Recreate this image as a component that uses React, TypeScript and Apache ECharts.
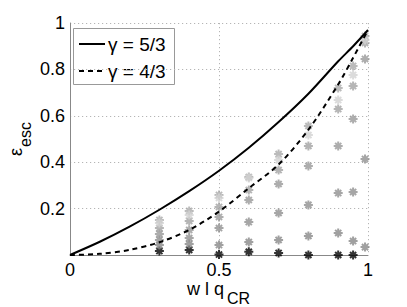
import { useEffect, useRef } from 'react';
import * as echarts from 'echarts';

// Axis ticks
const xTickValues = [0, 0.5, 1];
const yTickValues = [0.2, 0.4, 0.6, 0.8, 1];

// Legend labels
const legendLabels = ['γ = 5/3', 'γ = 4/3'];

// Analytic curves
const curveW = [0, 0.1, 0.2, 0.3, 0.4, 0.5, 0.6, 0.7, 0.8, 0.9, 0.95, 1];
const gamma53 = [0, 0.057, 0.122, 0.195, 0.275, 0.363, 0.462, 0.573, 0.695, 0.835, 0.9, 0.97];
const gamma43 = [0, 0.005, 0.022, 0.055, 0.108, 0.187, 0.288, 0.39, 0.54, 0.735, 0.85, 0.97];

// Simulation points (asterisks), columns of w / q_CR
const wColumns = [0.3, 0.4, 0.5, 0.6, 0.7, 0.8, 0.9, 0.95, 0.99];
const runA = [0.151, 0.19, 0.259, 0.336, 0.435, 0.556, 0.72, 0.815, 0.944];
const runB = [0.138, 0.172, 0.246, 0.332, 0.409, 0.517, 0.668, 0.776, 0.927];
const runC = [0.116, 0.147, 0.207, 0.28, 0.366, 0.47, 0.629, 0.728, 0.914];
const runD = [0.091, 0.108, 0.164, 0.237, 0.306, 0.384, 0.47, 0.586, 0.845];
const runE = [0.065, 0.073, 0.116, 0.142, 0.181, 0.216, 0.267, 0.272, 0.414];
const runF = [0.043, 0.047, 0.043, 0.056, 0.065, 0.082, 0.095, 0.06, 0.034];
const runG = [0.017, 0.022, 0.002, 0.014, 0.009, 0.0, 0.0, 0.0, null];

const runs = [
  { name: 'G', values: runG, color: '#000000' },
  { name: 'F', values: runF, color: '#888888' },
  { name: 'E', values: runE, color: '#909090' },
  { name: 'D', values: runD, color: '#989898' },
  { name: 'C', values: runC, color: '#a2a2a2' },
  { name: 'A', values: runA, color: '#aaaaaa' },
  { name: 'B', values: runB, color: '#d2d2d2' },
];

const FONT = 'Liberation Sans, Arial, Helvetica, sans-serif';
const STAR = 'path://M5 0L5 10M0 5L10 5M1.6 1.6L8.4 8.4M1.6 8.4L8.4 1.6';

export default function App() {
  const ref = useRef<HTMLDivElement>(null);
  useEffect(() => {
    if (!ref.current) return;
    const chart = echarts.init(ref.current, null, { renderer: 'svg' });
    const zip = (xs: number[], ys: (number | null)[]) =>
      xs.map((x, i) => (ys[i] === null ? null : [x, ys[i]])).filter((p) => p !== null);

    const option: any = {
      animation: false,
      backgroundColor: '#ffffff',
      grid: { left: 70, right: 39, top: 23, bottom: 52, containLabel: false },
      xAxis: {
        type: 'value',
        min: 0,
        max: 1,
        interval: 0.5,
        axisLine: { show: true, lineStyle: { color: '#888888', width: 1 } },
        axisTick: { show: false },
        axisLabel: {
          color: '#000',
          fontSize: 18,
          fontFamily: FONT,
          margin: 6,
          formatter: (v: number) => (xTickValues.includes(+v.toFixed(2)) ? String(+v.toFixed(2)) : ''),
        },
        splitLine: { show: true, lineStyle: { color: '#b5b5b5', type: [1.2, 2.8], width: 1 } },
      },
      yAxis: {
        type: 'value',
        min: 0,
        max: 1,
        interval: 0.2,
        axisLine: { show: true, lineStyle: { color: '#888888', width: 1 } },
        axisTick: { show: false },
        axisLabel: {
          color: '#000',
          fontSize: 18,
          fontFamily: FONT,
          margin: 5,
          formatter: (v: number) => (yTickValues.includes(+v.toFixed(2)) ? String(+v.toFixed(2)) : ''),
        },
        splitLine: { show: true, lineStyle: { color: '#b5b5b5', type: [1.2, 2.8], width: 1 } },
      },
      series: [
        ...runs.map((r) => ({
          type: 'scatter',
          name: r.name,
          data: zip(wColumns, r.values),
          symbol: STAR,
          symbolSize: 9,
          itemStyle: { color: r.color, borderColor: r.color, borderWidth: 2 },
          z: 2,
        })),
        {
          type: 'line',
          name: legendLabels[0],
          data: zip(curveW, gamma53),
          symbol: 'none',
          smooth: 0.3,
          lineStyle: { color: '#000', width: 2, type: 'solid' },
          z: 3,
        },
        {
          type: 'line',
          name: legendLabels[1],
          data: zip(curveW, gamma43),
          symbol: 'none',
          smooth: 0.3,
          lineStyle: { color: '#000', width: 2, type: [5, 4] },
          z: 3,
        },
      ],
      graphic: [
        {
          type: 'group',
          z: 100,
          children: [
            {
              type: 'rect',
              shape: { x: 73.5, y: 28.5, width: 101, height: 56 },
              style: { fill: '#ffffff', stroke: '#999999', lineWidth: 1 },
            },
            {
              type: 'line',
              shape: { x1: 79, y1: 44, x2: 105, y2: 44 },
              style: { stroke: '#000', lineWidth: 2 },
            },
            {
              type: 'line',
              shape: { x1: 79, y1: 71, x2: 105, y2: 71 },
              style: { stroke: '#000', lineWidth: 2, lineDash: [5, 4] },
            },
            {
              type: 'text',
              x: 108,
              y: 44,
              style: { text: legendLabels[0], fontSize: 19, fontFamily: FONT, fill: '#000', align: 'left', verticalAlign: 'middle' },
            },
            {
              type: 'text',
              x: 108,
              y: 71,
              style: { text: legendLabels[1], fontSize: 19, fontFamily: FONT, fill: '#000', align: 'left', verticalAlign: 'middle' },
            },
          ],
        },
        {
          type: 'text',
          x: 187,
          y: 288.5,
          style: { text: 'w l q', fontSize: 18, fontFamily: FONT, fill: '#000', align: 'left', verticalAlign: 'middle' },
        },
        {
          type: 'text',
          x: 227,
          y: 298,
          style: { text: 'CR', fontSize: 16, fontFamily: FONT, fill: '#000', align: 'left', verticalAlign: 'middle' },
        },
        {
          type: 'text',
          x: 15.5,
          y: 156,
          rotation: Math.PI / 2,
          style: { text: 'ε', fontSize: 18, fontFamily: FONT, fill: '#000', align: 'left', verticalAlign: 'middle' },
        },
        {
          type: 'text',
          x: 25.5,
          y: 147,
          rotation: Math.PI / 2,
          style: { text: 'esc', fontSize: 16, fontFamily: FONT, fill: '#000', align: 'left', verticalAlign: 'middle' },
        },
      ],
    };
    chart.setOption(option);
    return () => chart.dispose();
  }, []);
  return <div ref={ref} style={{ position: 'fixed', left: 0, top: 0, width: 407, height: 307 }} />;
}
